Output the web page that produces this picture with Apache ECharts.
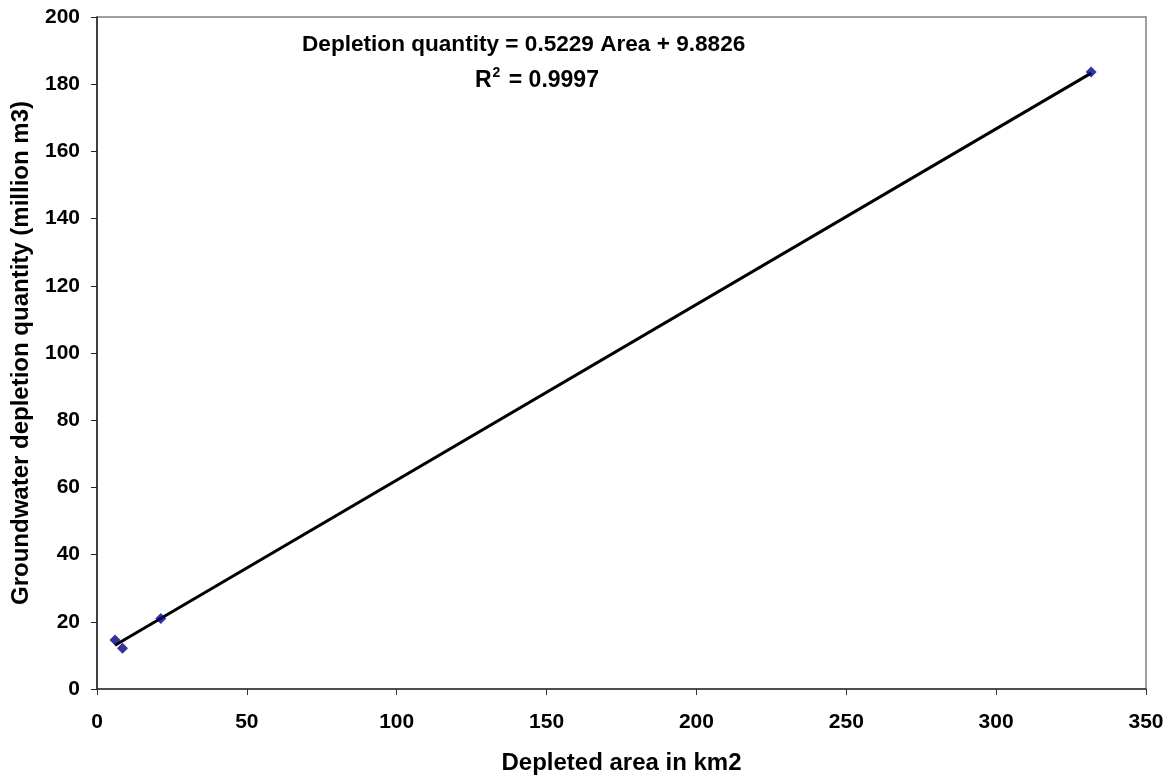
<!DOCTYPE html>
<html><head><meta charset="utf-8">
<script src="https://cdn.jsdelivr.net/npm/echarts@6/dist/echarts.min.js"></script>
<style>html,body{margin:0;padding:0;background:#fff}#c{width:1172px;height:778px}</style>
</head><body><div id="c"></div>
<script>
const areaKm2 = [6.0, 8.5, 21.3, 331.7];
const depletionMm3 = [14.6, 12.1, 21.0, 183.6];
const trendX = [6.0, 331.7];
const trendY = [13.0, 183.3];
const equationText = 'Depletion quantity = 0.5229 Area + 9.8826';
const r2Value = '0.9997';
const xTitle = 'Depleted area in km2';
const yTitle = 'Groundwater depletion quantity (million m3)';

const F = 'Liberation Sans, Arial, sans-serif';
const chart = echarts.init(document.getElementById('c'));
chart.setOption({
  backgroundColor: '#fff',
  animation: false,
  grid: {left: 97, top: 17, right: 26, bottom: 89, show: true, borderColor: '#808080', borderWidth: 1.5,
         containLabel: false, outerBoundsMode: 'none'},
  xAxis: {
    type: 'value', min: 0, max: 350, interval: 50,
    name: xTitle, nameLocation: 'middle', nameGap: 62,
    nameTextStyle: {fontFamily: F, fontWeight: 'bold', fontSize: 24, color: '#000'},
    axisLine: {show: true, lineStyle: {color: '#333', width: 1.5}},
    axisTick: {show: true, length: 6, lineStyle: {color: '#333'}},
    axisLabel: {fontFamily: F, fontWeight: 'bold', fontSize: 21, color: '#000', margin: 23},
    splitLine: {show: false}
  },
  yAxis: {
    type: 'value', min: 0, max: 200, interval: 20,
    name: yTitle, nameLocation: 'middle', nameGap: 64, nameRotate: 90,
    nameTextStyle: {fontFamily: F, fontWeight: 'bold', fontSize: 24, color: '#000'},
    axisLine: {show: true, lineStyle: {color: '#222', width: 1.5}},
    axisTick: {show: true, length: 6, lineStyle: {color: '#222'}},
    axisLabel: {fontFamily: F, fontWeight: 'bold', fontSize: 21, color: '#000', margin: 17},
    splitLine: {show: false}
  },
  graphic: [
    {type: 'text', left: 302, top: 33, style: {text: equationText, font: 'bold 22.6px ' + F, fill: '#000'}},
    {type: 'text', left: 475, top: 66, style: {
      text: '{b|R}{s|2}{b| = ' + r2Value + '}',
      rich: {b: {fontFamily: F, fontWeight: 'bold', fontSize: 23, lineHeight: 26, fill: '#000', verticalAlign: 'bottom'},
             s: {fontFamily: F, fontWeight: 'bold', fontSize: 14, lineHeight: 14, fill: '#000', verticalAlign: 'top', padding: [0, 2, 0, 1]}}
    }}
  ],
  series: [
    {type: 'line', data: trendX.map((x, i) => [x, trendY[i]]), symbol: 'none', lineStyle: {color: '#000', width: 3}, z: 2},
    {type: 'scatter', data: areaKm2.map((x, i) => [x, depletionMm3[i]]), symbol: 'diamond', symbolSize: 11, itemStyle: {color: '#000080'}, z: 3}
  ]
});
</script></body></html>
